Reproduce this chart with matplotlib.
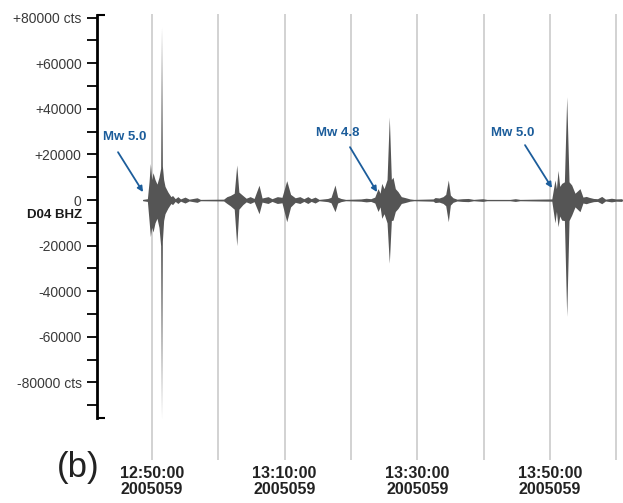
import matplotlib.pyplot as plt
import numpy as np

plt.rcParams['font.family'] = ['Liberation Sans', 'DejaVu Sans']

# envelope of the D04 BHZ trace
# time = minutes after 12:00, amplitudes in counts
t_min = [48.6, 49.3, 49.55, 49.75, 49.95, 50.15, 50.45, 50.75, 51.05, 51.30, 51.43, 51.56,
         51.75, 51.96, 52.4, 52.85, 53.1, 53.5, 53.9, 54.3, 54.98, 55.6, 56.8, 57.3,
         60.8, 61.3, 61.8, 62.4, 62.78, 63.1, 63.7, 64.2, 64.8, 65.4, 66.14, 66.6,
         67.5, 68.1, 68.9, 69.6, 70.32, 70.9, 71.6, 72.3, 72.9, 73.5, 74.0, 74.6,
         75.2, 76.5, 77.0, 77.6, 78.0, 78.5, 79.2, 81.5, 82.3, 83.0, 83.6, 84.09,
         84.4, 84.65, 85.0, 85.45, 85.79, 86.1, 86.35, 86.7, 87.1, 87.6, 88.16, 88.9,
         89.5, 92.4, 92.7, 93.3, 93.9, 94.3, 94.69, 95.0, 95.4, 96.0, 96.8, 97.7,
         98.5, 99.9, 100.5, 104.0, 104.8, 105.5, 110.3, 110.78, 111.0, 111.24, 111.5, 111.79,
         112.2, 112.55, 112.9, 113.3, 113.8, 114.55, 115.0, 115.5, 115.9, 116.6, 117.2, 117.83,
         118.4, 119.3, 120.0, 120.9]
upper = [300, 600, 8000, 16000, 9000, 12000, 9000, 7000, 10000, 14000, 76000, 15000,
         9000, 6000, 3500, 1500, 2000, 600, 1500, 500, 1300, 400, 1000, 300,
         400, 1500, 2000, 3000, 15400, 3500, 2000, 800, 1500, 700, 6500, 900,
         1500, 600, 1500, 1200, 8500, 2500, 1000, 1500, 600, 1500, 600, 1300,
         300, 700, 1200, 6600, 1300, 700, 300, 500, 800, 600, 1300, 5000,
         3000, 7300, 5000, 9000, 36500, 9000, 10000, 5000, 3700, 1500, 1100, 500,
         300, 500, 1100, 900, 1500, 2500, 8800, 2200, 1000, 400, 600, 700,
         300, 600, 300, 300, 600, 300, 500, 8800, 5000, 13000, 6000, 7300,
         8000, 45300, 8000, 6600, 3000, 5000, 1300, 1600, 1200, 700, 600, 1600,
         400, 800, 500, 600]
lower = [-300, -600, -9000, -16000, -12000, -14000, -10000, -8000, -12000, -20000, -96000, -18000,
         -9000, -6000, -3500, -1500, -2000, -600, -1500, -500, -1300, -400, -1000, -300,
         -400, -1500, -2500, -4000, -20000, -4000, -2000, -800, -1500, -700, -6000, -900,
         -1500, -600, -1500, -1200, -9500, -3000, -1000, -1500, -600, -1500, -600, -1300,
         -300, -700, -1200, -5100, -1300, -700, -300, -500, -800, -600, -1300, -5000,
         -3000, -8000, -6000, -10000, -27700, -9000, -8800, -5000, -3700, -1500, -1100, -500,
         -300, -500, -1100, -900, -1500, -2500, -9500, -2200, -1000, -400, -600, -700,
         -300, -600, -300, -300, -600, -300, -500, -10000, -5000, -11700, -7000, -8800,
         -9000, -51000, -9000, -6600, -3000, -5100, -1300, -1600, -1200, -700, -600, -1600,
         -400, -800, -500, -600]

# events: label, arrow tip (t, amp), arrow tail (t, amp), text centre (t, amp)
ev_labels = ['Mw 5.0', 'Mw 4.8', 'Mw 5.0']
ev_tip = [(48.64, 3500), (83.94, 3500), (110.33, 5300)]
ev_tail = [(44.87, 21000), (79.86, 23200), (106.26, 24100)]
ev_text = [(45.9, 27600), (78.0, 29400), (104.4, 29400)]

grid_min = [50, 60, 70, 80, 90, 100, 110, 120]
label_min = [50, 70, 90, 110]
julian_day = '2005059'
y_major = [80000, 60000, 40000, 20000, 0, -20000, -40000, -60000, -80000]
y_major_lbl = ['+80000 cts', '+60000', '+40000', '+20000', '0',
               '-20000', '-40000', '-60000', '-80000 cts']

fig = plt.figure(figsize=(6.23, 5.03), dpi=100)
ax = fig.add_axes([97 / 623, 1 - 460 / 503, 526 / 623, 446 / 503])
ax.set_xlim(41.70, 121.04)
ax.set_ylim(-114000, 81600)

for g in grid_min:
    ax.axvline(g, color='#cbcbcb', lw=1.2, zorder=0)

ax.plot([t_min[0], t_min[-1]], [0, 0], color='#606060', lw=0.7, zorder=2)
ax.fill_between(t_min, lower, upper, color='#555555', lw=0, zorder=3)

blue = '#1c5d9b'
for lab, tip, tail, txt in zip(ev_labels, ev_tip, ev_tail, ev_text):
    ax.annotate('', xy=tip, xytext=tail,
                arrowprops=dict(arrowstyle='-|>', color=blue, lw=1.3, mutation_scale=8,
                                shrinkA=0, shrinkB=0))
    ax.text(txt[0], txt[1], lab, color=blue, fontsize=9.5, fontweight='bold',
            ha='center', va='center')

# y axis
for s in ['top', 'right', 'bottom']:
    ax.spines[s].set_visible(False)
ax.spines['left'].set_linewidth(2.0)
ax.spines['left'].set_bounds(-95500, 81000)
ax.set_yticks(y_major)
ax.set_yticklabels(y_major_lbl, fontsize=10, color='#3a3a3a')
ax.set_yticks(np.arange(-90000, 80001, 10000), minor=True)
ax.tick_params(axis='y', which='both', direction='out', length=7, width=1.3, pad=4)
yt = ax.get_yaxis_transform()
for yv in [81000, -95500]:
    ax.plot([0, 0.016], [yv, yv], color='black', lw=1.5, transform=yt, clip_on=False,
            solid_capstyle='butt')
ax.text(-0.028, -6500, 'D04 BHZ', transform=yt, ha='right', va='center',
        fontsize=9.5, fontweight='bold', color='#1a1a1a')

# time labels
ax.set_xticks(label_min)
ax.set_xticklabels([f'{12 + m // 60}:{m % 60:02d}:00\n{julian_day}' for m in label_min],
                   fontsize=11.5, fontweight='bold', color='#222222', linespacing=1.1)
ax.tick_params(axis='x', length=0, pad=4)

fig.text(78 / 623, 1 - 467 / 503, '(b)', fontsize=25, ha='center', va='center',
         color='#222222')

fig.savefig('out.png', dpi=100)
